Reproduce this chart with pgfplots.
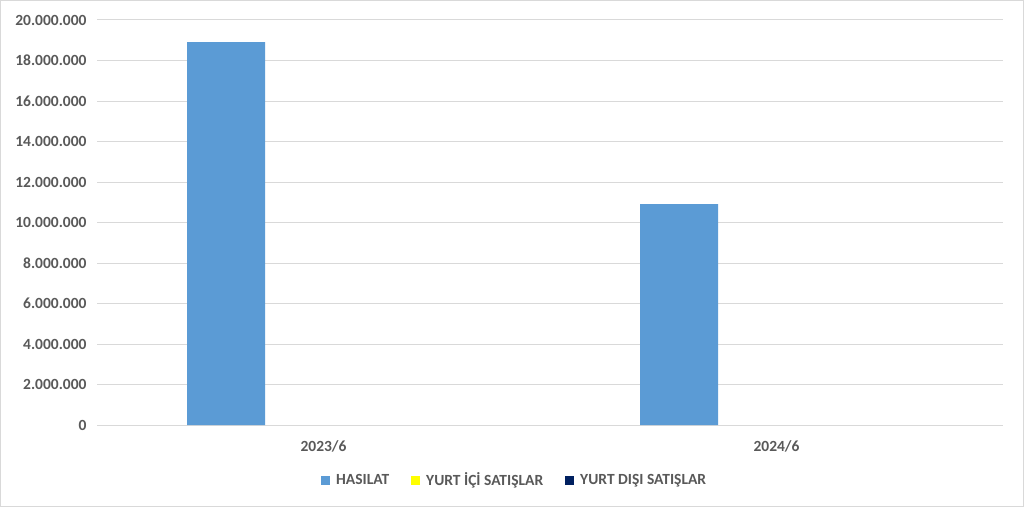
\documentclass[border=0pt]{standalone}
\usepackage{pgfplots}
\pgfplotsset{compat=1.18}
\usepackage{fontspec}
\setmainfont{Carlito}
\definecolor{hasilat}{HTML}{5B9BD5}
\definecolor{yurtici}{HTML}{FFFF00}
\definecolor{yurtdisi}{HTML}{002060}
\definecolor{txt}{HTML}{595959}
\definecolor{gridc}{HTML}{D9D9D9}
\begin{document}
\begin{tikzpicture}
\useasboundingbox (0,0) rectangle (1024pt,507pt);
\draw[gridc, line width=1pt] (0.5pt,0.5pt) rectangle (1023.5pt,506.5pt);
\begin{axis}[
    at={(97pt,82pt)}, anchor=south west,
    scale only axis,
    width=906pt, height=405pt,
    xmin=-0.5, xmax=1.5,
    ymin=0, ymax=20000000,
    xtick={0,1}, xticklabels={2023/6, 2024/6},
    ytick={0,2000000,...,20000000},
    scaled y ticks=false,
    yticklabel={\pgfmathprintnumber[fixed, precision=0, 1000 sep={.}]{\tick}},
    /pgf/number format/assume math mode=true,
    axis line style={draw=none},
    major tick style={draw=none},
    ymajorgrids, grid style={gridc, line width=1pt},
    ticklabel style={font=\fontsize{15.5}{17}\selectfont\bfseries, text=txt},
    yticklabel style={xshift=-7pt},
    xticklabel style={yshift=-8pt},
    ybar, bar width=78pt,
    legend style={at={(0.461,-0.136)}, anchor=center, draw=none,
        font=\fontsize{15.5}{17}\selectfont\bfseries, text=txt,
        legend columns=3,
        /tikz/every odd column/.append style={column sep=4pt},
        /tikz/every even column/.append style={column sep=20pt}},
    legend image code/.code={\fill[#1] (0pt,-4.5pt) rectangle (9pt,4.5pt);},
]
\addplot[fill=hasilat, draw=none, bar shift=-97.5pt] coordinates {(0,18910000) (1,10910000)};
\addplot[fill=yurtici, draw=none, bar shift=0pt, forget plot,
    y filter/.expression={y==0 ? nan : y}] coordinates {(0,0) (1,0)};
\addplot[fill=yurtdisi, draw=none, bar shift=97.5pt, forget plot,
    y filter/.expression={y==0 ? nan : y}] coordinates {(0,0) (1,0)};
\addlegendimage{fill=yurtici, draw=none}
\addlegendimage{fill=yurtdisi, draw=none}
\legend{HASILAT, YURT İÇİ SATIŞLAR, YURT DIŞI SATIŞLAR}
\end{axis}
\end{tikzpicture}
\end{document}
